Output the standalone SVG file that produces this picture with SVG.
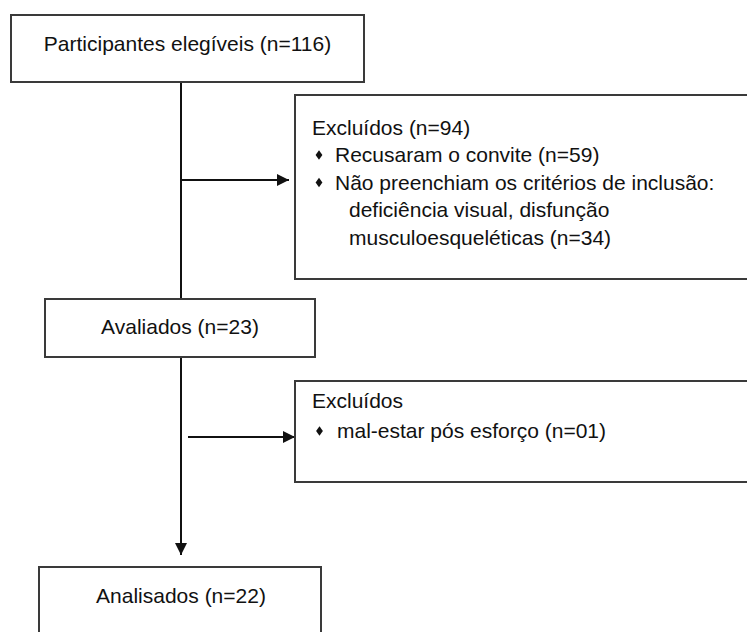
<svg xmlns="http://www.w3.org/2000/svg" xmlns:xlink="http://www.w3.org/1999/xlink" width="747" height="632" viewBox="0 0 747 632">
  <defs>
    <style>
      .box { fill: #ffffff; stroke: #3a3a3a; stroke-width: 2; }
      .t { font-family: "Liberation Sans", Arial, sans-serif; font-size: 21px; fill: #111111; }
      .c { text-anchor: middle; }
      .line { stroke: #111111; stroke-width: 2; fill: none; }
    </style>
    <marker id="arrow" viewBox="0 0 12 12" refX="12" refY="6" markerWidth="12" markerHeight="12" markerUnits="userSpaceOnUse" orient="auto">
      <path d="M0,0 L12,6 L0,12 Z" fill="#111111"/>
    </marker>
    <path id="bullet" d="M0,-4.8 L3.4,0 L0,4.8 L-3.4,0 Z" fill="#111111"/>
  </defs>
  <rect width="747" height="632" fill="#ffffff"/>

  <g id="connectors">
    <line class="line" x1="181" y1="82" x2="181" y2="299"/>
    <line class="line" x1="181" y1="180" x2="289" y2="180" marker-end="url(#arrow)"/>
    <line class="line" x1="181" y1="357" x2="181" y2="555" marker-end="url(#arrow)"/>
    <line class="line" x1="188" y1="437" x2="295" y2="437" marker-end="url(#arrow)"/>
  </g>

  <g id="node-elegiveis">
    <rect class="box" x="11" y="15" width="353" height="67"/>
    <text class="t c" x="187.5" y="51">Participantes elegíveis (n=116)</text>
  </g>

  <g id="node-excluidos1">
    <rect class="box" x="295" y="95" width="460" height="184"/>
    <text class="t" x="312" y="134.5">Excluídos (n=94)</text>
    <use xlink:href="#bullet" x="319" y="155"/>
    <text class="t" x="335" y="162">Recusaram o convite (n=59)</text>
    <use xlink:href="#bullet" x="319" y="182.5"/>
    <text class="t" x="335" y="189.5">Não preenchiam os critérios de inclusão:</text>
    <text class="t" x="349" y="217">deficiência visual, disfunção</text>
    <text class="t" x="349" y="244.5">musculoesqueléticas  (n=34)</text>
  </g>

  <g id="node-avaliados">
    <rect class="box" x="45" y="299" width="270" height="58"/>
    <text class="t c" x="180" y="334">Avaliados (n=23)</text>
  </g>

  <g id="node-excluidos2">
    <rect class="box" x="295" y="381" width="460" height="101"/>
    <text class="t" x="312" y="408">Excluídos</text>
    <use xlink:href="#bullet" x="319.5" y="431"/>
    <text class="t" x="337" y="438">mal-estar pós esforço (n=01)</text>
  </g>

  <g id="node-analisados">
    <rect class="box" x="39" y="567" width="282" height="80"/>
    <text class="t c" x="181" y="603">Analisados (n=22)</text>
  </g>
</svg>
